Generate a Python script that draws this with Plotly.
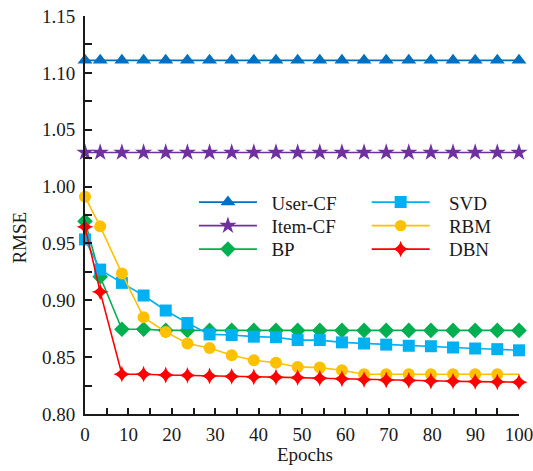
import plotly.graph_objects as go

# Epoch positions of the recorded RMSE values
epochs = [0, 3.5, 8.5, 13.5, 18.6, 23.6, 28.7, 33.8, 38.9, 44.0, 49.0,
          54.1, 59.2, 64.3, 69.4, 74.6, 79.7, 84.8, 89.9, 95.0, 100]

user_cf = [1.111, 1.111, 1.111, 1.111, 1.111, 1.111, 1.111, 1.111, 1.111, 1.111, 1.111,
           1.111, 1.111, 1.111, 1.111, 1.111, 1.111, 1.111, 1.111, 1.111, 1.111]
item_cf = [1.030, 1.030, 1.030, 1.030, 1.030, 1.030, 1.030, 1.030, 1.030, 1.030, 1.030,
           1.030, 1.030, 1.030, 1.030, 1.030, 1.030, 1.030, 1.030, 1.030, 1.030]
bp = [0.9696, 0.9206, 0.8745, 0.8745, 0.8735, 0.8735, 0.8735, 0.8735, 0.8735, 0.8735, 0.8735,
      0.8735, 0.8735, 0.8735, 0.8735, 0.8735, 0.8735, 0.8735, 0.8735, 0.8735, 0.8735]
svd = [0.9535, 0.927, 0.9153, 0.9042, 0.891, 0.880, 0.870, 0.8695, 0.868, 0.8675, 0.865,
       0.865, 0.863, 0.862, 0.861, 0.860, 0.8596, 0.8585, 0.8576, 0.857, 0.856]
rbm = [0.991, 0.965, 0.9236, 0.885, 0.8722, 0.862, 0.858, 0.8517, 0.8473, 0.845, 0.8414,
       0.8408, 0.8385, 0.835, 0.835, 0.835, 0.835, 0.835, 0.835, 0.835, 0.835]
dbn = [0.9646, 0.9074, 0.835, 0.835, 0.8343, 0.834, 0.8335, 0.833, 0.8326, 0.8323, 0.832,
       0.8315, 0.831, 0.8303, 0.830, 0.8295, 0.829, 0.8288, 0.8285, 0.8283, 0.828]

x_ticks = [0, 10, 20, 30, 40, 50, 60, 70, 80, 90, 100]
y_ticks = [0.80, 0.85, 0.90, 0.95, 1.00, 1.05, 1.10, 1.15]

FONT = "Liberation Serif, Times New Roman, Tinos, serif"
INK = "#1a1a1a"
NB = "\u00a0"

# name, values, colour, marker symbol, marker size, legend slot, legend x, legend y, text pad
series = [
    ("User-CF", user_cf, "#0070C0", "triangle-up", 13, "legend", 0.251, 0.532, 2),
    ("Item-CF", item_cf, "#7030A0", "star", 13, "legend2", 0.251, 0.473, 2),
    ("BP", bp, "#00B050", "diamond", 12, "legend3", 0.251, 0.414, 2),
    ("SVD", svd, "#00B0F0", "square", 12, "legend4", 0.649, 0.532, 3),
    ("RBM", rbm, "#FFC000", "circle", 12, "legend5", 0.649, 0.473, 3),
    ("DBN", dbn, "#FF0000", "star-diamond", 12, "legend6", 0.649, 0.414, 3),
]

fig = go.Figure()
legends = {}
for name, vals, color, symbol, size, leg, lx, ly, pad in series:
    sizes = [size] * len(epochs)
    if name == "RBM":
        # the final RBM epoch is drawn as a bare line end
        sizes[-1] = 0
    fig.add_trace(go.Scatter(
        x=epochs, y=vals, name=NB * pad + name, mode="lines+markers",
        line=dict(color=color, width=1.6),
        marker=dict(symbol=symbol, size=sizes, color=color, opacity=1,
                    line=dict(width=0)),
        cliponaxis=False, legend=leg,
    ))
    legends[leg] = dict(
        x=lx, y=ly, xanchor="left", yanchor="middle",
        font=dict(family=FONT, size=19, color=INK),
        bgcolor="rgba(0,0,0,0)", borderwidth=0, itemwidth=58,
    )

fig.update_layout(
    width=533, height=471,
    margin=dict(l=85, r=14, t=16, b=57),
    paper_bgcolor="white", plot_bgcolor="white",
    font=dict(family=FONT, size=19, color=INK),
    showlegend=True,
    **legends,
    xaxis=dict(
        range=[0, 100], showgrid=False, zeroline=False, automargin=False,
        showline=True, linecolor=INK, linewidth=2,
        tickmode="array", tickvals=x_ticks, ticktext=[str(v) for v in x_ticks],
        ticks="inside", ticklen=6, tickwidth=1.5, tickcolor=INK,
        minor=dict(dtick=5, tick0=0, ticks="inside", ticklen=6, tickwidth=1.5, tickcolor=INK),
        tickfont=dict(family=FONT, size=19, color=INK),
        ticklabelstandoff=2, ticklabeloverflow="allow",
    ),
    yaxis=dict(
        range=[0.80, 1.15], showgrid=False, zeroline=False, automargin=False,
        showline=True, linecolor=INK, linewidth=2,
        tickmode="array", tickvals=y_ticks, ticktext=[f"{v:.2f}" for v in y_ticks],
        ticks="inside", ticklen=7, tickwidth=1.5, tickcolor=INK,
        minor=dict(dtick=0.025, tick0=0.8, ticks="inside", ticklen=7, tickwidth=1.5, tickcolor=INK),
        tickfont=dict(family=FONT, size=19, color=INK),
        ticklabelstandoff=4, ticklabeloverflow="allow",
    ),
    annotations=[
        dict(text="RMSE", textangle=-90, xref="paper", yref="paper",
             x=-0.15, y=0.443, xanchor="center", yanchor="middle",
             showarrow=False, font=dict(family=FONT, size=19, color=INK)),
        dict(text="Epochs", xref="paper", yref="paper",
             x=0.508, y=-0.103, xanchor="center", yanchor="middle",
             showarrow=False, font=dict(family=FONT, size=19, color=INK)),
    ],
)

fig.write_html("out.html")
